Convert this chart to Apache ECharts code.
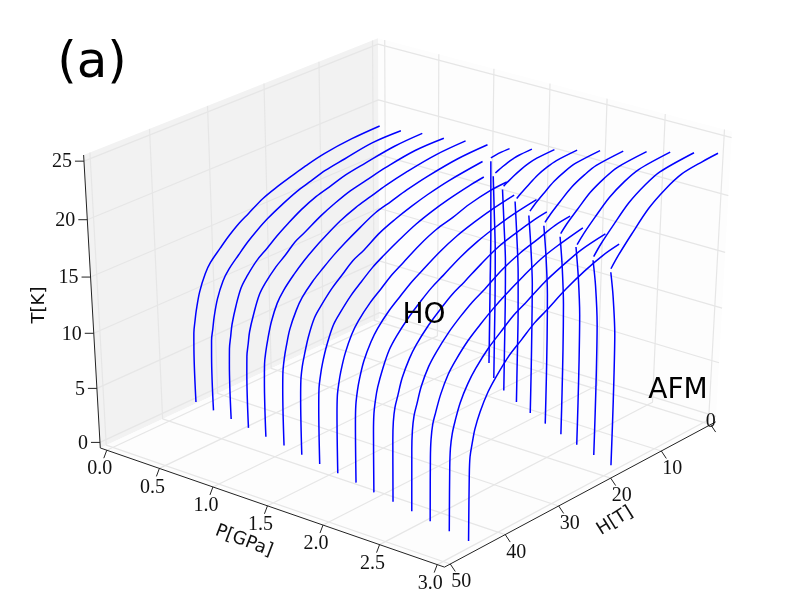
<!DOCTYPE html>
<html style="height: 100%">
<head>
<meta charset="utf-8">
<script src="https://cdn.jsdelivr.net/npm/echarts@6/dist/echarts.min.js"></script>
</head>
<body style="height: 100%; margin: 0; background: #fff">
<div id="container" style="width: 800px; height: 600px"></div>
<script>
var pTicks = [0, 0.5, 1, 1.5, 2, 2.5, 3];
var hTicks = [0, 10, 20, 30, 40, 50];
var tTicks = [0, 5, 10, 15, 20, 25];

// one phase boundary per pressure
var pressures = [0, 0.2, 0.4, 0.6, 0.8, 1, 1.2, 1.4, 1.6, 1.8, 2, 2.2, 2.4, 2.6, 2.8, 3];

// HO boundary, field and temperature
var hoH = [
    [0.0, 5.3, 10.5, 14.0, 16.7, 19.3, 21.9, 24.6, 26.3, 28.1, 29.8, 31.6, 32.6, 33.7, 34.4, 34.7, 35.0, 35.1, 35.1],
    [0.0, 5.4, 10.7, 14.3, 17.0, 19.6, 22.3, 25.0, 26.8, 28.6, 30.3, 32.1, 33.2, 34.3, 35.0, 35.3, 35.6, 35.7, 35.7],
    [0.0, 5.4, 10.9, 14.5, 17.2, 20.0, 22.7, 25.4, 27.2, 29.0, 30.9, 32.7, 33.8, 34.8, 35.6, 35.9, 36.2, 36.3, 36.3],
    [0.0, 5.5, 11.1, 14.8, 17.6, 20.4, 23.1, 25.9, 27.8, 29.6, 31.4, 33.3, 34.4, 35.5, 36.3, 36.6, 36.9, 37.0, 37.0],
    [0.0, 5.7, 11.3, 15.1, 17.9, 20.7, 23.6, 26.4, 28.3, 30.2, 32.0, 33.9, 35.1, 36.2, 36.9, 37.3, 37.6, 37.7, 37.7],
    [0.0, 5.7, 11.5, 15.3, 18.2, 21.1, 23.9, 26.8, 28.7, 30.6, 32.6, 34.5, 35.6, 36.8, 37.5, 37.9, 38.2, 38.3, 38.3],
    [5.2, 11.7, 15.6, 18.5, 21.5, 24.4, 27.3, 29.3, 31.2, 33.1, 35.1, 36.3, 37.4, 38.2, 38.6, 38.9, 39.0, 39.0],
    [9.2, 11.9, 15.9, 18.9, 21.8, 24.8, 27.8, 29.8, 31.8, 33.7, 35.7, 36.9, 38.1, 38.9, 39.3, 39.6, 39.7, 39.7],
    [9.1, 12.1, 16.2, 19.2, 22.2, 25.3, 28.3, 30.3, 32.3, 34.3, 36.4, 37.6, 38.8, 39.6, 40.0, 40.3, 40.4, 40.4],
    [12.0, 16.4, 19.5, 22.6, 25.7, 28.8, 30.8, 32.9, 34.9, 37.0, 38.2, 39.5, 40.3, 40.7, 41.0, 41.1, 41.1],
    [12.1, 16.8, 19.9, 23.0, 26.2, 29.3, 31.4, 33.5, 35.6, 37.7, 39.0, 40.2, 41.1, 41.5, 41.8, 41.9, 41.9],
    [14.5, 17.0, 20.2, 23.4, 26.6, 29.7, 31.9, 34.0, 36.1, 38.3, 39.5, 40.8, 41.6, 42.1, 42.4, 42.5, 42.5],
    [14.5, 17.3, 20.5, 23.8, 27.0, 30.2, 32.4, 34.6, 36.7, 38.9, 40.2, 41.5, 42.3, 42.8, 43.1, 43.2, 43.2],
    [16.5, 20.9, 24.2, 27.5, 30.8, 33.0, 35.2, 37.4, 39.6, 40.9, 42.2, 43.1, 43.6, 43.9, 44.0, 44.0],
    [16.7, 21.2, 24.6, 27.9, 31.3, 33.5, 35.8, 38.0, 40.2, 41.6, 42.9, 43.8, 44.3, 44.6, 44.7, 44.7],
    [18.6, 21.6, 25.0, 28.4, 31.8, 34.0, 36.3, 38.6, 40.9, 42.2, 43.6, 44.5, 44.9, 45.3, 45.4, 45.4]
];
var hoT = [
    [18.0, 17.9, 17.6, 17.2, 16.8, 16.4, 15.9, 15.1, 14.6, 13.9, 13.1, 12.2, 11.4, 10.0, 8.5, 7.6, 6.5, 5.0, 0.1],
    [18.1, 18.1, 17.7, 17.4, 17.0, 16.6, 16.0, 15.3, 14.7, 14.0, 13.2, 12.3, 11.5, 10.1, 8.6, 7.6, 6.6, 5.1, 0.1],
    [18.4, 18.3, 17.9, 17.6, 17.2, 16.8, 16.2, 15.4, 14.8, 14.1, 13.4, 12.4, 11.6, 10.2, 8.7, 7.7, 6.6, 5.2, 0.1],
    [18.5, 18.5, 18.1, 17.7, 17.4, 16.9, 16.3, 15.5, 15.0, 14.2, 13.5, 12.5, 11.7, 10.2, 8.8, 7.8, 6.7, 5.2, 0.1],
    [18.8, 18.7, 18.3, 17.9, 17.5, 17.1, 16.5, 15.7, 15.1, 14.4, 13.6, 12.6, 11.7, 10.3, 8.9, 7.9, 6.8, 5.3, 0.1],
    [19.0, 18.9, 18.5, 18.1, 17.7, 17.3, 16.6, 15.8, 15.2, 14.5, 13.7, 12.7, 11.8, 10.4, 9.0, 8.0, 6.8, 5.3, 0.1],
    [19.1, 18.7, 18.3, 17.9, 17.4, 16.8, 15.9, 15.4, 14.6, 13.8, 12.7, 11.9, 10.5, 9.0, 8.1, 6.9, 5.4, 0.1],
    [19.1, 18.9, 18.5, 18.1, 17.6, 16.9, 16.1, 15.5, 14.7, 13.9, 12.8, 12.0, 10.5, 9.1, 8.1, 7.0, 5.4, 0.1],
    [19.2, 19.1, 18.7, 18.2, 17.8, 17.1, 16.2, 15.6, 14.8, 14.0, 12.9, 12.0, 10.6, 9.2, 8.2, 7.1, 5.5, 0.1],
    [19.2, 18.8, 18.4, 17.9, 17.2, 16.3, 15.7, 14.9, 14.1, 13.0, 12.1, 10.7, 9.3, 8.3, 7.1, 5.5, 0.1],
    [19.4, 19.0, 18.6, 18.1, 17.4, 16.5, 15.9, 15.1, 14.2, 13.1, 12.2, 10.8, 9.4, 8.4, 7.2, 5.6, 0.1],
    [19.4, 19.2, 18.8, 18.3, 17.5, 16.6, 16.0, 15.2, 14.3, 13.1, 12.2, 10.8, 9.4, 8.5, 7.3, 5.7, 0.1],
    [19.6, 19.4, 18.9, 18.4, 17.7, 16.7, 16.1, 15.3, 14.4, 13.2, 12.3, 10.9, 9.5, 8.6, 7.3, 5.7, 0.1],
    [19.6, 19.1, 18.6, 17.8, 16.9, 16.2, 15.4, 14.5, 13.3, 12.4, 11.0, 9.6, 8.7, 7.4, 5.8, 0.1],
    [19.7, 19.3, 18.7, 18.0, 17.0, 16.4, 15.5, 14.6, 13.4, 12.4, 11.1, 9.7, 8.7, 7.5, 5.8, 0.1],
    [19.8, 19.5, 18.9, 18.1, 17.1, 16.5, 15.6, 14.7, 13.4, 12.5, 11.1, 9.8, 8.8, 7.6, 5.9, 0.1]
];

// AFM boundary for P >= 1.2
var afmH = [
    [0, 1.8, 3.6],
    [0, 2.5, 3.5, 4.6, 5.7, 6.5, 7.0],
    [0, 3.4, 4.9, 6.4, 7.9, 9.0, 9.7],
    [0, 4.0, 5.8, 7.6, 9.3, 10.7, 11.5],
    [0, 4.7, 6.7, 8.8, 10.8, 12.4, 13.3],
    [0, 5.2, 7.4, 9.8, 12.0, 13.8, 14.8],
    [0, 5.7, 8.1, 10.7, 13.1, 15.1, 16.2],
    [0, 6.1, 8.8, 11.6, 14.2, 16.3, 17.5],
    [0, 6.6, 9.4, 12.4, 15.2, 17.5, 18.8],
    [0, 3.1, 7.0, 10.1, 13.2, 16.2, 18.6, 20.0]
];
var afmT = [
    [19.2, 19.2, 19.1],
    [19.7, 19.66, 19.58, 19.46, 19.27, 19.11, 19.0],
    [20.2, 20.13, 19.99, 19.76, 19.44, 19.15, 18.95],
    [20.7, 20.59, 20.38, 20.04, 19.54, 19.1, 18.8],
    [21.2, 21.05, 20.77, 20.31, 19.64, 19.06, 18.65],
    [21.7, 21.51, 21.16, 20.6, 19.78, 19.05, 18.55],
    [22.2, 21.98, 21.56, 20.89, 19.91, 19.05, 18.45],
    [22.7, 22.44, 21.96, 21.18, 20.05, 19.05, 18.35],
    [23.2, 22.9, 22.35, 21.45, 20.15, 19.0, 18.2],
    [23.7, 23.6, 23.36, 22.7, 21.7, 20.2, 18.9, 18.0]
];

// low temperature wall between HO and AFM for P >= 1.2
var wallH = [
    [3.4, 3.4, 3.4, 3.4, 3.5, 3.6],
    [6.7, 6.7, 6.7, 6.8, 7.1, 7.4],
    [9.0, 9.0, 9.0, 9.1, 9.5, 9.9],
    [10.8, 10.8, 10.8, 10.95, 11.35, 11.8],
    [12.4, 12.4, 12.45, 12.55, 13.0, 13.5],
    [13.8, 13.8, 13.85, 14.0, 14.45, 15.0],
    [15.1, 15.1, 15.15, 15.3, 15.75, 16.3],
    [16.4, 16.4, 16.45, 16.6, 17.1, 17.7],
    [17.5, 17.5, 17.55, 17.7, 18.25, 18.9],
    [18.6, 18.6, 18.65, 18.8, 19.4, 20.0]
];
var wallT = [
    [0.1, 4, 8, 12, 15.5, 18.8],
    [0.1, 4, 8, 12, 15.5, 18.8],
    [0.1, 4, 8, 12, 15.5, 18.7],
    [0.1, 4, 8, 12, 15.5, 18.6],
    [0.1, 4, 8, 12, 15.5, 18.3],
    [0.1, 4, 8, 12, 15.5, 18.3],
    [0.1, 4, 8, 12, 15.5, 18.2],
    [0.1, 4, 8, 12, 15.5, 18.2],
    [0.1, 4, 8, 12, 15.5, 17.9],
    [0.1, 4, 8, 12, 15.5, 17.7]
];

// same camera as mplot3d (elev 30, azim -51, dist 10), H axis runs backwards
var elev = 30 * Math.PI / 180, azim = -51 * Math.PI / 180, dist = 10;
var scaleX = 431, shiftX = 410, scaleY = -323.1, shiftY = 292.8;
var nv = [Math.cos(azim) * Math.cos(elev), Math.sin(azim) * Math.cos(elev), Math.sin(elev)];
var eye = [0.5 + dist * nv[0], 0.5 + dist * nv[1], 0.5 + dist * nv[2]];
var uv = [-Math.sin(azim), Math.cos(azim), 0];
var vv = [nv[1] * uv[2] - nv[2] * uv[1], nv[2] * uv[0] - nv[0] * uv[2], nv[0] * uv[1] - nv[1] * uv[0]];
function project(p, h, t) {
    var q = [p / 3 - eye[0], (50 - h) / 50 - eye[1], t / 25 - eye[2]];
    var xx = q[0] * uv[0] + q[1] * uv[1];
    var yy = q[0] * vv[0] + q[1] * vv[1] + q[2] * vv[2];
    var zz = q[0] * nv[0] + q[1] * nv[1] + q[2] * nv[2];
    return [xx / (-zz / dist) * scaleX + shiftX, yy / (-zz / dist) * scaleY + shiftY];
}
function poly(list) {
    return list.map(function (q) { return project(q[0], q[1], q[2]); });
}
// box edges sit a little outside the limits
var pLo = -0.0625, pHi = 3.0625, hFront = 51.04, hBack = -1.04, tLo = -0.52, tHi = 25.52;

var series = [];
function addLine(points, color, width, z, smooth) {
    series.push({
        type: 'line', data: points, showSymbol: false, silent: true, clip: false, z: z,
        smooth: smooth || false, lineStyle: {color: color, width: width}
    });
}

var walls = [
    {c: '#f2f2f2', v: [[pLo, hFront, tLo], [pLo, hBack, tLo], [pLo, hBack, tHi], [pLo, hFront, tHi]]},
    {c: '#fdfdfd', v: [[pLo, hBack, tLo], [pHi, hBack, tLo], [pHi, hBack, tHi], [pLo, hBack, tHi]]},
    {c: '#fdfdfd', v: [[pLo, hFront, tLo], [pHi, hFront, tLo], [pHi, hBack, tLo], [pLo, hBack, tLo]]}
];
series.push({
    type: 'custom', z: 1, silent: true,
    data: walls.map(function (w, i) { return [i]; }),
    renderItem: function (params, api) {
        var w = walls[params.dataIndex];
        return {
            type: 'polygon',
            shape: {points: poly(w.v).map(function (p) { return api.coord(p); })},
            style: {fill: w.c}
        };
    }
});

var gridColor = '#e6e6e6';
tTicks.forEach(function (t) { addLine(poly([[pLo, hFront, t], [pLo, hBack, t], [pHi, hBack, t]]), gridColor, 1.2, 2); });
pTicks.forEach(function (p) { addLine(poly([[p, hFront, tLo], [p, hBack, tLo], [p, hBack, tHi]]), gridColor, 1.2, 2); });
hTicks.forEach(function (h) { addLine(poly([[pHi, h, tLo], [pLo, h, tLo], [pLo, h, tHi]]), gridColor, 1.2, 2); });
addLine(poly([[pLo, hFront, tHi], [pLo, hFront, tLo], [pHi, hFront, tLo], [pHi, hBack, tLo]]), '#222', 1, 3);

var labels = [];
function addTick(a, dx, dy) {
    addLine([a, [a[0] + dx, a[1] + dy]], '#222', 1, 3);
}
tTicks.forEach(function (t) {
    var a = project(pLo, hFront, t);
    addTick(a, -9, 0);
    labels.push({s: String(t), x: a[0] - 12, y: a[1] + 1, al: 'right'});
});
pTicks.forEach(function (p) {
    var a = project(p, hFront, tLo);
    addTick(a, -3, 8);
    labels.push({s: p.toFixed(1), x: a[0] - 7, y: a[1] + 19});
});
hTicks.forEach(function (h) {
    var a = project(pHi, h, tLo);
    addTick(a, 5, 7.5);
    // the 0 label lands on its own tick in the original
    labels.push({s: String(h), x: a[0] + (h ? 11 : 0), y: a[1] + (h ? 18 : -3)});
});

pressures.forEach(function (p, i) {
    addLine(hoH[i].map(function (h, k) { return project(p, h, hoT[i][k]); }), '#0000ff', 1.5, 5, 0.35);
    if (i >= 6) {
        var j = i - 6;
        addLine(wallH[j].map(function (h, k) { return project(p, h, wallT[j][k]); }), '#0000ff', 1.5, 5, 0.3);
        addLine(afmH[j].map(function (h, k) { return project(p, h, afmT[j][k]); }), '#0000ff', 1.5, 5, 0.3);
    }
});

function addTexts(list, font, z) {
    series.push({
        type: 'custom', z: z, silent: true,
        data: list.map(function (l, i) { return [i]; }),
        renderItem: function (params, api) {
            var l = list[params.dataIndex], c = api.coord([l.x, l.y]);
            return {
                type: 'text', x: c[0], y: c[1], rotation: (l.rot || 0) * Math.PI / 180,
                style: {
                    text: l.s, font: l.font || font, fill: l.fill || '#111',
                    textAlign: l.al || 'center', textVerticalAlign: 'middle'
                }
            };
        }
    });
}
addTexts(labels, '20px "Liberation Serif"', 6);
addTexts([
    {s: 'T[K]', x: 39, y: 305, rot: 90},
    {s: 'P[GPa]', x: 244, y: 541, rot: -21},
    {s: 'H[T]', x: 615, y: 521, rot: 32},
    {s: '(a)', x: 92, y: 64, font: '50px "DejaVu Sans"', fill: '#000'},
    {s: 'HO', x: 424, y: 316, font: '28px "DejaVu Sans"', fill: '#000'},
    {s: 'AFM', x: 678, y: 391, font: '28px "DejaVu Sans"', fill: '#000'}
], '18px "DejaVu Sans"', 7);

var myChart = echarts.init(document.getElementById('container'));
myChart.setOption({
    animation: false,
    grid: {left: 0, right: 0, top: 0, bottom: 0},
    xAxis: {type: 'value', min: 0, max: 800, show: false},
    yAxis: {type: 'value', min: 0, max: 600, inverse: true, show: false},
    series: series
});
</script>
</body>
</html>
